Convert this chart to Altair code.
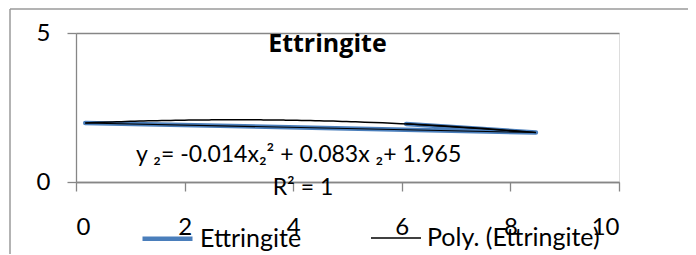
import altair as alt
import pandas as pd

FONT = "Lato"

# data (unsorted points, drawn in data order)
x_vals = [0.17, 8.47, 6.08]
y_vals = [1.98, 1.66, 1.95]
order_idx = [0, 1, 2]

series_names = ["Ettringite", "Poly. (Ettringite)"]
series_colors = ["#4a7ebb", "#000000"]
series_widths = [4.5, 1.5]
x_ticks = [0, 2, 4, 6, 8, 10]
y_ticks = [0, 5]

title_text = ["Ettringite"]
title_x = [4.63]
title_y = [4.35]

eq_texts = ["y \u2082= -0.014x\u2082\u00b2 + 0.083x \u2082+ 1.965", "R\u00b2 = 1"]
eq_x = [4.1, 4.18]
eq_y = [0.92, -0.19]

df = pd.DataFrame({"x": x_vals, "y": y_vals, "idx": order_idx})
ann = pd.DataFrame({"x": eq_x, "y": eq_y, "t": eq_texts})
ttl = pd.DataFrame({"x": title_x, "y": title_y, "t": title_text})

AX = "#868686"

x_enc = alt.X("x:Q", scale=alt.Scale(domain=[0, 10], nice=False, zero=False),
              axis=alt.Axis(values=x_ticks, title=None, grid=False, tickSize=9,
                            labelPadding=24, labelFontSize=24, labelFont=FONT,
                            labelColor="black", domainColor=AX, tickColor=AX,
                            domainWidth=1.3, tickWidth=1.3))
y_enc = alt.Y("y:Q", scale=alt.Scale(domain=[0, 5], nice=False),
              axis=alt.Axis(values=y_ticks, title=None, grid=True, gridColor=AX,
                            gridWidth=1.3, tickSize=9, labelPadding=17,
                            labelFontSize=24, labelFont=FONT, labelColor="black",
                            domainColor=AX, tickColor=AX, domainWidth=1.3,
                            tickWidth=1.3))

leg = alt.Legend(
    title=None, orient="none", legendX=64, legendY=178,
    direction="horizontal", symbolType="stroke", symbolSize=2500,
    labelFontSize=25, labelFont=FONT, labelLimit=400,
    labelColor="black", labelOffset=5, columnPadding=66,
)
color_enc = alt.Color("series:N",
                      scale=alt.Scale(domain=series_names, range=series_colors),
                      legend=leg)
sw_enc = alt.StrokeWidth("series:N",
                         scale=alt.Scale(domain=series_names, range=series_widths),
                         legend=leg)

base = alt.Chart(df)
one = pd.DataFrame({"k": [0]})

border_top = alt.Chart(one).mark_rule(stroke="#9a9a9a", strokeWidth=1.5).encode(
    x=alt.value(-66), x2=alt.value(650), y=alt.value(-24))
border_left = alt.Chart(one).mark_rule(stroke="#9a9a9a", strokeWidth=1.5).encode(
    x=alt.value(-66), y=alt.value(-24), y2=alt.value(240))

blue = base.transform_calculate(series="'Ettringite'").mark_line(
    strokeCap="round", strokeJoin="round"
).encode(x=x_enc, y=y_enc, order="idx:Q", color=color_enc, strokeWidth=sw_enc)

chord = base.mark_line(strokeWidth=1.1, color="black").encode(
    x=x_enc, y=y_enc, order="idx:Q")

trend = base.transform_regression("x", "y", method="poly", order=2).transform_calculate(
    series="'Poly. (Ettringite)'"
).mark_line().encode(x=x_enc, y=y_enc, color=color_enc, strokeWidth=sw_enc)

text = alt.Chart(ann).mark_text(font=FONT, fontSize=23, color="black", clip=False).encode(
    x="x:Q", y="y:Q", text="t:N")

title = alt.Chart(ttl).mark_text(font="Open Sans", fontSize=25, fontWeight="bold",
                                 color="black", baseline="alphabetic").encode(
    x="x:Q", y="y:Q", text="t:N")

chart = alt.layer(border_top, border_left, blue, chord, trend, text, title).properties(
    width=543, height=149,
    padding={"left": 68, "top": 25, "right": 69, "bottom": 72},
    autosize="none",
).configure_view(strokeWidth=0).configure(background="white")

chart.save("out.html", embed_options={"renderer": "svg", "actions": False})
